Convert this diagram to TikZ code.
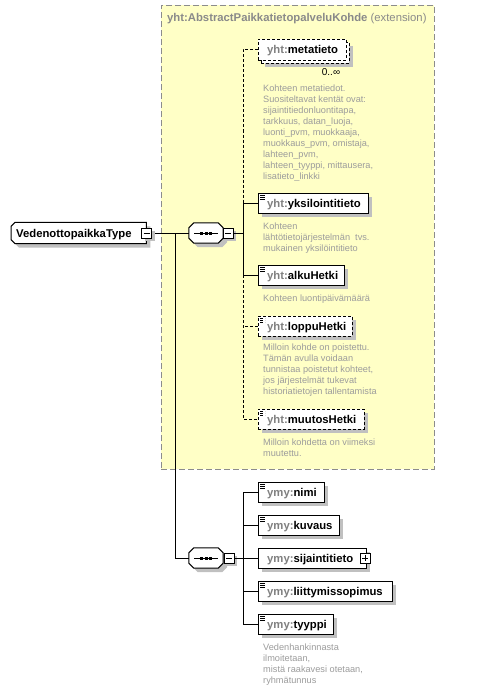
\documentclass[tikz,border=0pt]{standalone}
\usepackage{fontspec}
\setmainfont{Liberation Sans}
\usetikzlibrary{calc}
\definecolor{yel}{HTML}{FFFFC6}
\definecolor{shd}{HTML}{C0C0C0}
\definecolor{pre}{HTML}{808080}
\definecolor{dsc}{HTML}{9C9C9C}
\definecolor{ttl}{HTML}{8A8A8A}
\definecolor{extb}{HTML}{8C8C8C}
\newcommand{\nmx}[2]{{\color{pre}#1}#2}
\pgfdeclarelayer{back}
\pgfdeclarelayer{bg}
\pgfsetlayers{back,bg,main}
% octagon outline around node #1, chamfer #2
\newcommand{\octopath}[2]{($(#1.north west)+(#2,0)$) -- ($(#1.north east)+(-#2,0)$) -- ($(#1.north east)+(0,#2)$) -- ($(#1.south east)+(0,-#2)$) -- ($(#1.south east)+(-#2,0)$) -- ($(#1.south west)+(#2,0)$) -- ($(#1.south west)+(0,-#2)$) -- ($(#1.north west)+(0,#2)$) -- cycle}
\newcommand{\leftchampath}[2]{($(#1.north west)+(#2,0)$) -- (#1.north east) -- (#1.south east) -- ($(#1.south west)+(#2,0)$) -- ($(#1.south west)+(0,-#2)$) -- ($(#1.north west)+(0,#2)$) -- cycle}
\begin{document}
\begin{tikzpicture}[x=1pt,y=-1pt,line width=1pt,
  shadowed/.style={preaction={fill=shd,draw=none,transform canvas={shift={(#1,-#1)}}}},
  shadowed/.default=4pt,
  namefont/.style={font=\fontsize{11.3}{13}\selectfont\bfseries},
  elem/.style={shadowed,rectangle,draw=black,fill=white,minimum height=20pt,inner sep=0pt,anchor=west,namefont,text height=8.5pt,text depth=0.5pt},
  optel/.style={dash pattern=on 3pt off 2pt},
  icon/.style={path picture={\foreach \k in {2.5,4.5,6.5}{\draw[black,line width=0.8pt] ([shift={(2pt,-\k pt)}]path picture bounding box.north west) -- ++(5pt,0pt);}}},
  multi/.style={preaction={fill=shd,draw=none,transform canvas={shift={(7pt,-7pt)}}},
                preaction={fill=white,draw=black,dash pattern=on 3pt off 2pt,transform canvas={shift={(3pt,-3pt)}}},
                rectangle,draw=black,fill=white,dash pattern=on 3pt off 2pt,minimum height=21pt,inner sep=0pt,anchor=west,namefont,text height=8.5pt,text depth=0.5pt},
  typebox/.style={rectangle,draw=none,fill=none,minimum height=21pt,inner sep=0pt,anchor=west,namefont,text height=8.5pt,text depth=0.5pt},
  seqbox/.style={rectangle,draw=none,fill=none,minimum width=34pt,minimum height=20pt,inner sep=0pt,
    path picture={\draw[black,line width=1pt] ([xshift=-12pt]path picture bounding box.center) -- ([xshift=12pt]path picture bounding box.center);
      \foreach \d in {-4.5,0,4.5}{\fill[black] ([xshift=\d pt]path picture bounding box.center) +(-1.5pt,-1.5pt) rectangle +(1.5pt,1.5pt);}}},
  outline/.style={draw=black,fill=white,line width=1pt,shadowed},
  minusbox/.style={shadowed=3pt,rectangle,draw=black,fill=white,minimum size=10pt,inner sep=0pt,
    path picture={\draw[black,line width=1pt] ([xshift=2pt]path picture bounding box.west) -- ([xshift=-2pt]path picture bounding box.east);}},
  plusbox/.style={rectangle,draw=black,fill=white,minimum size=10pt,inner sep=0pt,
    path picture={\draw[black,line width=1pt] ([xshift=2pt]path picture bounding box.west) -- ([xshift=-2pt]path picture bounding box.east);
      \draw[black,line width=1pt] ([yshift=-2pt]path picture bounding box.north) -- ([yshift=2pt]path picture bounding box.south);}},
  desc/.style={anchor=north west,align=left,inner sep=0pt,text=dsc,font=\fontsize{9.2}{11}\selectfont},
  dsh/.style={dash pattern=on 3pt off 2pt}
]
\useasboundingbox (0,0) rectangle (477,690);
\begin{pgfonlayer}{back}
\fill[white] (0,0) rectangle (477,690);
\node[draw=extb,fill=yel,dash pattern=on 6pt off 3pt,rectangle,minimum width=273pt,minimum height=464pt,anchor=north west,inner sep=0pt] (ext) at (161,5) {};
\end{pgfonlayer}
\node[anchor=west,inner sep=0pt,text=ttl,font=\fontsize{11.3}{13}\selectfont] (title) at (167,19) {\textbf{yht:AbstractPaikkatietopalveluKohde} (extension)};

% main type
\node[typebox] (type) at (11,233) {\makebox[135pt][l]{\hspace*{5pt}VedenottopaikkaType}};
\begin{pgfonlayer}{bg}
\path[outline] \leftchampath{type}{4};
\end{pgfonlayer}
\node[minusbox] (m0) at (146.5,233) {};

% sequence 1
\node[seqbox] (s1) at (206,233) {};
\begin{pgfonlayer}{bg}
\path[outline] \octopath{s1}{5};
\end{pgfonlayer}
\node[minusbox] (m1) at (228,233) {};

% group 1 elements
\node[multi] (meta) at (258,49.5) {\makebox[88pt][l]{\hspace*{9pt}\nmx{yht:}{metatieto}}};
\node[inner sep=0pt,font=\fontsize{10}{12}\selectfont] (mult) at (331,72) {0..∞};
\node[desc] (d1) at (263,83.3) {\strut Kohteen metatiedot.\\Suositeltavat kentät ovat:\\sijaintitiedonluontitapa,\\tarkkuus, datan\_luoja,\\luonti\_pvm, muokkaaja,\\muokkaus\_pvm, omistaja,\\lahteen\_pvm,\\lahteen\_tyyppi, mittausera,\\lisatieto\_linkki};

\node[elem,icon] (yks) at (258,203) {\makebox[110pt][l]{\hspace*{9pt}\nmx{yht:}{yksilointitieto}}};
\node[desc] (d2) at (263,221.3) {\strut Kohteen\\lähtötietojärjestelmän\ \ tvs.\\mukainen yksilöintitieto};

\node[elem,icon] (alk) at (258,275) {\makebox[86pt][l]{\hspace*{9pt}\nmx{yht:}{alkuHetki}}};
\node[desc] (d3) at (263,293.3) {\strut Kohteen luontipäivämäärä};

\node[elem,icon,optel] (lop) at (258,326) {\makebox[94pt][l]{\hspace*{9pt}\nmx{yht:}{loppuHetki}}};
\node[desc] (d4) at (263,342.3) {\strut Milloin kohde on poistettu.\\Tämän avulla voidaan\\tunnistaa poistetut kohteet,\\jos järjestelmät tukevat\\historiatietojen tallentamista};

\node[elem,icon,optel] (muu) at (258,419) {\makebox[106pt][l]{\hspace*{9pt}\nmx{yht:}{muutosHetki}}};
\node[desc] (d5) at (263,437.3) {\strut Milloin kohdetta on viimeksi\\muutettu.};

% sequence 2
\node[seqbox] (s2) at (206,558) {};
\begin{pgfonlayer}{bg}
\path[outline] \octopath{s2}{5};
\end{pgfonlayer}
\node[minusbox] (m2) at (229,558) {};

\node[elem,icon] (nimi) at (258,492) {\makebox[66pt][l]{\hspace*{9pt}\nmx{ymy:}{nimi}}};
\node[elem,icon] (kuv) at (258,525) {\makebox[81pt][l]{\hspace*{9pt}\nmx{ymy:}{kuvaus}}};
\node[elem] (sij) at (258,558) {\makebox[108pt][l]{\hspace*{9pt}\nmx{ymy:}{sijaintitieto}}};
\node[plusbox] (pl) at (365,558) {};
\node[elem,icon] (lii) at (258,591) {\makebox[134pt][l]{\hspace*{9pt}\nmx{ymy:}{liittymissopimus}}};
\node[elem,icon] (tyy) at (258,624) {\makebox[75pt][l]{\hspace*{9pt}\nmx{ymy:}{tyyppi}}};
\node[desc] (d6) at (263,642.3) {\strut Vedenhankinnasta\\ilmoitetaan,\\mistä raakavesi otetaan,\\ryhmätunnus};

% connectors
\coordinate (j1) at (175,233);
\coordinate (b1s) at (243,233);
\coordinate (b1y) at (243,203);
\coordinate (b1a) at (243,275);
\coordinate (b2b) at (243,624);

\begin{pgfonlayer}{bg}
\draw (m0.east) -- (s1.west);
\draw (j1) |- (s2.west);
\end{pgfonlayer}
\draw (m1.east) -- (b1s);
\draw[dsh] (meta.west) -| (b1y);
\draw (yks.west) -- (b1y) -- (b1a) -- (alk.west);
\draw[dsh] (b1a) |- (muu.west);
\draw[dsh] (lop.west) -- (lop.west -| b1a);

\draw (nimi.west) -| (b2b) -- (tyy.west);
\draw (kuv.west) -- (kuv.west -| b2b);
\draw (lii.west) -- (lii.west -| b2b);
\draw (m2.east) -- (sij.west);
\end{tikzpicture}
\end{document}
